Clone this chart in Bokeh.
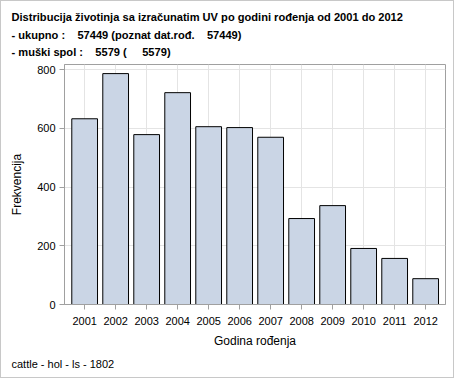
from bokeh.plotting import figure
from bokeh.models import Title, FixedTicker, Range1d
from bokeh.embed import file_html
from bokeh.resources import INLINE

years = [2001, 2002, 2003, 2004, 2005, 2006, 2007, 2008, 2009, 2010, 2011, 2012]
counts = [633, 787, 579, 722, 606, 603, 570, 293, 337, 191, 157, 88]
y_ticks = [0, 200, 400, 600, 800]
NB = "\u00a0"
title_lines = [
    "Distribucija životinja sa izračunatim UV po godini rođenja od 2001 do 2012",
    "- ukupno :" + NB * 4 + "57449 (poznat dat.rođ." + NB * 4 + "57449)",
    "- muški spol :" + NB * 4 + "5579 (" + NB * 5 + "5579)",
]
footer = "cattle - hol - ls - 1802"
x_label = "Godina rođenja"
y_label = "Frekvencija"

FONT = "Liberation Sans"

p = figure(width=454, height=378, output_backend="svg", toolbar_location=None,
           x_range=Range1d(2000.35, 2012.64), y_range=Range1d(0, 818),
           min_border_left=63, min_border_right=10, min_border_top=63, min_border_bottom=75)

p.vbar(x=years, top=counts, width=0.83, fill_color="#CAD5E5", line_color="black", line_width=1)

p.outline_line_color = "#A0A0A0"
p.background_fill_color = "white"
p.border_fill_color = "white"

p.xaxis.ticker = FixedTicker(ticks=years)
p.yaxis.ticker = FixedTicker(ticks=y_ticks)
p.xgrid.ticker = FixedTicker(ticks=years)
p.ygrid.ticker = FixedTicker(ticks=y_ticks)
p.grid.grid_line_color = "#E4E4E4"

for ax in (p.xaxis, p.yaxis):
    ax.axis_line_color = "#A0A0A0"
    ax.major_tick_line_color = "#A0A0A0"
    ax.minor_tick_line_color = None
    ax.major_tick_in = 0
    ax.major_tick_out = 5
    ax.major_label_text_font = FONT
    ax.major_label_text_font_size = "11px"
    ax.major_label_text_color = "black"
    ax.axis_label_text_font = FONT
    ax.axis_label_text_font_size = "12px"
    ax.axis_label_text_font_style = "normal"
    ax.axis_label_text_color = "black"

p.xaxis.axis_label = x_label
p.yaxis.axis_label = y_label
p.xaxis.major_label_standoff = 7
p.xaxis.axis_label_standoff = 6
p.yaxis.major_label_standoff = 4
p.yaxis.axis_label_standoff = 10

p.add_layout(Title(text="\n".join(title_lines), align="left", offset=-53, standoff=13,
                   text_font=FONT, text_font_size="11.1px", text_font_style="bold",
                   text_line_height=1.45, text_color="black"), "above")
p.add_layout(Title(text=footer, align="left", offset=-53, standoff=11,
                   text_font=FONT, text_font_size="11px", text_font_style="normal",
                   text_color="black"), "below")

p.styles = {"border": "1px solid #C8C8C8", "box-sizing": "border-box"}

open("out.html", "w").write(file_html(p, INLINE))
